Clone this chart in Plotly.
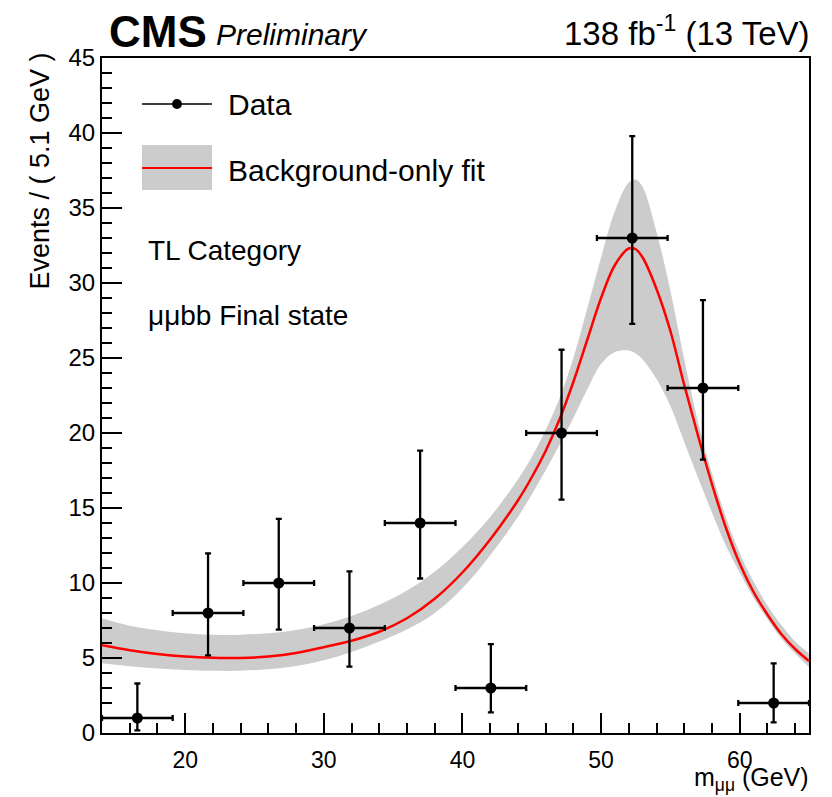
import plotly.graph_objects as go

# ---------------- data ----------------
mass_centers = [16.55, 21.65, 26.75, 31.85, 36.95, 42.05, 47.15, 52.25, 57.35, 62.45]
bin_half_width = [2.55, 2.55, 2.55, 2.55, 2.55, 2.55, 2.55, 2.55, 2.55, 2.55]
events = [1, 8, 10, 7, 14, 3, 20, 33, 23, 2]
err_low = [0.83, 2.82, 3.11, 2.58, 3.70, 1.63, 4.44, 5.73, 4.77, 1.29]
err_high = [2.30, 3.98, 4.27, 3.77, 4.83, 2.92, 5.55, 6.79, 5.86, 2.64]

fit_x = [14, 16, 18, 20, 22, 24, 26, 28, 30, 32, 34, 36, 38, 40, 42, 44, 45, 46, 47, 48,
         49, 50, 51, 52, 52.5, 53, 54, 55, 56, 57, 58, 59, 60, 61, 62, 63, 64, 65]
fit_central = [5.85, 5.52, 5.27, 5.1, 5.02, 5.0, 5.1, 5.33, 5.72, 6.15, 6.75, 7.65, 8.95, 10.7, 12.9, 15.5,
               17.05, 18.8, 20.9, 23.4, 26.2, 29.0, 31.2, 32.3, 32.25, 31.7, 29.6, 26.8, 23.2, 19.8,
               16.6, 13.7, 11.3, 9.4, 7.9, 6.6, 5.6, 4.8]
fit_upper = [7.65, 7.15, 6.85, 6.65, 6.55, 6.55, 6.65, 6.87, 7.25, 7.8, 8.55, 9.5, 10.75, 12.4, 14.4,
             16.9, 18.4, 20.2, 22.3, 25.0, 28.3, 31.7, 34.8, 36.7, 36.9, 36.4, 33.4, 29.5, 24.9,
             20.7, 17.3, 14.4, 12.0, 10.1, 8.5, 7.2, 6.1, 5.3]
fit_lower = [4.65, 4.45, 4.3, 4.2, 4.15, 4.15, 4.25, 4.47, 4.85, 5.4, 6.1, 6.9, 8.0, 9.65, 11.85,
             14.4, 15.9, 17.5, 19.2, 21.0, 22.9, 24.6, 25.4, 25.5, 25.3, 24.9, 23.6, 21.8, 19.4,
             17.0, 14.7, 12.5, 10.7, 9.0, 7.6, 6.3, 5.3, 4.4]

x_range = [14, 65]
y_range = [0, 45]

# ---------------- figure ----------------
FONT = "Liberation Sans, Arial, Helvetica, sans-serif"
BAND = "#cccccc"

fig = go.Figure()

fig.add_trace(go.Scatter(x=fit_x, y=fit_lower, mode="lines", line=dict(width=0, shape="spline"),
                         hoverinfo="skip", showlegend=False))
fig.add_trace(go.Scatter(x=fit_x, y=fit_upper, mode="lines", line=dict(width=0, shape="spline"),
                         fill="tonexty", fillcolor=BAND, hoverinfo="skip", showlegend=False))
fig.add_trace(go.Scatter(x=fit_x, y=fit_central, mode="lines",
                         line=dict(color="#ff0000", width=2.5, shape="spline"), showlegend=False))
fig.add_trace(go.Scatter(
    x=mass_centers, y=events, mode="markers",
    marker=dict(color="black", size=11),
    error_x=dict(type="data", array=bin_half_width, color="black", thickness=2.3, width=3),
    error_y=dict(type="data", symmetric=False, array=err_high, arrayminus=err_low,
                 color="black", thickness=2.3, width=3),
    showlegend=False))

L, R, T, B = 102, 23, 58, 64
W, H = 832, 797
pw, ph = W - L - R, H - T - B


def px(xp):
    return (xp - L) / pw


def py(yp):
    return (H - B - yp) / ph


fig.update_layout(
    width=W, height=H,
    margin=dict(l=L, r=R, t=T, b=B),
    paper_bgcolor="white", plot_bgcolor="white",
    font=dict(family=FONT, color="black"),
    showlegend=False,
    xaxis=dict(range=x_range, showgrid=False, zeroline=False, showline=True, linecolor="black",
               linewidth=2, mirror=True, ticks="inside", ticklen=20, tickwidth=2, tickcolor="black",
               dtick=10, tick0=0, tickfont=dict(size=23, family=FONT), ticklabelstandoff=5,
               minor=dict(ticks="inside", dtick=2, tick0=0, ticklen=10, tickwidth=2, tickcolor="black")),
    yaxis=dict(range=y_range, showgrid=False, zeroline=False, showline=True, linecolor="black",
               linewidth=2, mirror=True, ticks="inside", ticklen=20, tickwidth=2, tickcolor="black",
               dtick=5, tick0=0, tickfont=dict(size=24, family=FONT),
               minor=dict(ticks="inside", dtick=1, tick0=0, ticklen=10, tickwidth=2, tickcolor="black")),
)

shapes = []
# legend: data entry
shapes.append(dict(type="line", xref="paper", yref="paper", x0=px(142), x1=px(212), y0=py(104), y1=py(104),
                   line=dict(color="black", width=1.5)))
shapes.append(dict(type="circle", xref="paper", yref="paper", xsizemode="pixel", ysizemode="pixel",
                   xanchor=px(177), yanchor=py(104), x0=-5, x1=5, y0=-5, y1=5,
                   fillcolor="black", line=dict(color="black", width=0)))
# legend: fit entry
shapes.append(dict(type="rect", xref="paper", yref="paper", x0=px(142), x1=px(212), y0=py(190), y1=py(145),
                   fillcolor=BAND, line=dict(width=0)))
shapes.append(dict(type="line", xref="paper", yref="paper", x0=px(142), x1=px(212), y0=py(168), y1=py(168),
                   line=dict(color="#ff0000", width=2)))
fig.update_layout(shapes=shapes)

ann = []
ann.append(dict(text="<b>CMS</b>", x=px(107), y=py(32), xref="paper", yref="paper", xanchor="left",
                yanchor="middle", showarrow=False, font=dict(size=44, family=FONT)))
ann.append(dict(text="<i>Preliminary</i>", x=px(214), y=py(35), xref="paper", yref="paper", xanchor="left",
                yanchor="middle", showarrow=False, font=dict(size=30, family=FONT)))
ann.append(dict(text="138 fb<sup>-1</sup> (13 TeV)", x=px(812), y=py(31), xref="paper", yref="paper",
                xanchor="right", yanchor="middle", showarrow=False, font=dict(size=33, family=FONT)))
ann.append(dict(text="Data", x=px(226), y=py(104), xref="paper", yref="paper", xanchor="left",
                yanchor="middle", showarrow=False, font=dict(size=30, family=FONT)))
ann.append(dict(text="Background-only fit", x=px(226), y=py(170), xref="paper", yref="paper", xanchor="left",
                yanchor="middle", showarrow=False, font=dict(size=30, family=FONT)))
ann.append(dict(text="TL Category", x=px(146), y=py(250), xref="paper", yref="paper", xanchor="left",
                yanchor="middle", showarrow=False, font=dict(size=28, family=FONT)))
ann.append(dict(text="μμbb Final state", x=px(146), y=py(315), xref="paper", yref="paper", xanchor="left",
                yanchor="middle", showarrow=False, font=dict(size=28, family=FONT)))
ann.append(dict(text="Events / ( 5.1 GeV )", x=px(39), y=py(51), xref="paper", yref="paper", xanchor="center",
                yanchor="top", textangle=-90, showarrow=False, font=dict(size=27, family=FONT)))
ann.append(dict(text="m<sub>μμ</sub> (GeV)", x=px(811), y=py(797), xref="paper", yref="paper", xanchor="right",
                yanchor="bottom", showarrow=False, font=dict(size=25, family=FONT)))
fig.update_layout(annotations=ann)

fig.write_html("out.html", config={"displayModeBar": False},
               post_script="document.body.style.margin='0';")
